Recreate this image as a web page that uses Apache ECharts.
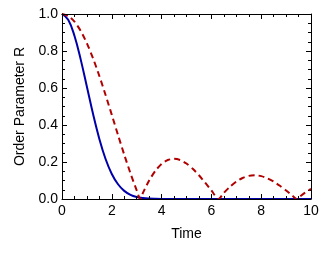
<!DOCTYPE html>
<html><head><meta charset="utf-8">
<script src="https://cdn.jsdelivr.net/npm/echarts@6/dist/echarts.min.js"></script>
<style>html,body{margin:0;padding:0;background:#fff}#c{width:332px;height:270px}</style>
</head><body><div id="c"></div>
<script>
const blueTime = [0,0.25,0.5,0.75,1,1.25,1.5,1.75,2,2.25,2.5,2.75,3,3.25,3.5,3.75,4,4.5,5,6,7,8,9,10];
const blueR = [1,0.9692,0.8825,0.7548,0.6065,0.4578,0.3247,0.2163,0.1353,0.0796,0.0439,0.0228,0.0111,0.0051,0.0022,0.0009,0.0003,0,0,0,0,0,0,0];
const redTime = [0,0.25,0.5,0.75,1,1.25,1.5,1.75,2,2.25,2.5,2.75,3,3.1416,3.25,3.5,3.75,4,4.25,4.5,4.75,5,5.25,5.5,5.75,6,6.2832,6.5,6.75,7,7.25,7.5,7.75,8,8.25,8.5,8.75,9,9.25,9.4248,9.5,9.75,10];
const redR = [1,0.9896,0.9589,0.9089,0.8415,0.7592,0.6650,0.5623,0.4546,0.3458,0.2394,0.1388,0.0470,0,0.0333,0.1002,0.1524,0.1892,0.2106,0.2172,0.2104,0.1918,0.1636,0.1283,0.0884,0.0466,0,0.0331,0.0667,0.0939,0.1136,0.1251,0.1283,0.1237,0.1118,0.0939,0.0714,0.0458,0.0188,0,0.0079,0.0328,0.0544];
const xTicks = [0,2,4,6,8,10];
const yTicks = [0.0,0.2,0.4,0.6,0.8,1.0];

const font = 'Liberation Sans, Arial, sans-serif';
const xMin = xTicks[0], xMax = xTicks[xTicks.length-1], xStep = xTicks[1]-xTicks[0];
const yMin = yTicks[0], yMax = yTicks[yTicks.length-1], yStep = yTicks[1]-yTicks[0];
function ax(dim, pos, major, labels){
  const isX = dim==='x';
  const o = {type:'value', position:pos,
    min: isX?xMin:yMin, max: isX?xMax:yMax,
    interval: (isX?xStep:yStep)/(major?1:4),
    axisLine:{show:major, onZero:false, lineStyle:{color:'#000', width:1}},
    axisTick:{show:true, inside:true, length: major?5:3, lineStyle:{color:'#000', width:1}},
    splitLine:{show:false},
    axisLabel:{show:labels, color:'#000', fontSize:14, fontFamily:font, margin: isX?5:4,
      formatter: isX ? (v=>String(v)) : (v=>v.toFixed(1))},
    z: major?5:4
  };
  if (labels){
    o.name = isX ? 'Time' : 'Order Parameter R';
    o.nameLocation = 'middle';
    o.nameGap = isX ? 28 : 28;
    o.nameTextStyle = {color:'#000', fontSize:14, fontFamily:font};
  }
  return o;
}
const chart = echarts.init(document.getElementById('c'), null, {renderer:'canvas'});
chart.setOption({
  animation:false,
  grid:{left:62, right:21, top:14, bottom:71, containLabel:false},
  xAxis:[ax('x','bottom',true,true), ax('x','top',true,false), ax('x','bottom',false,false), ax('x','top',false,false)],
  yAxis:[ax('y','left',true,true), ax('y','right',true,false), ax('y','left',false,false), ax('y','right',false,false)],
  series:[
    {type:'line', xAxisIndex:0, yAxisIndex:0, showSymbol:false, smooth:0.4,
     data:blueTime.map((t,i)=>[t,blueR[i]]), lineStyle:{color:'#0000AA', width:2}, z:3},
    {type:'line', xAxisIndex:0, yAxisIndex:0, showSymbol:false, smooth:0.25,
     data:redTime.map((t,i)=>[t,redR[i]]), lineStyle:{color:'#B00000', width:2, type:[6,4]}, z:4}
  ]
});
</script></body></html>
